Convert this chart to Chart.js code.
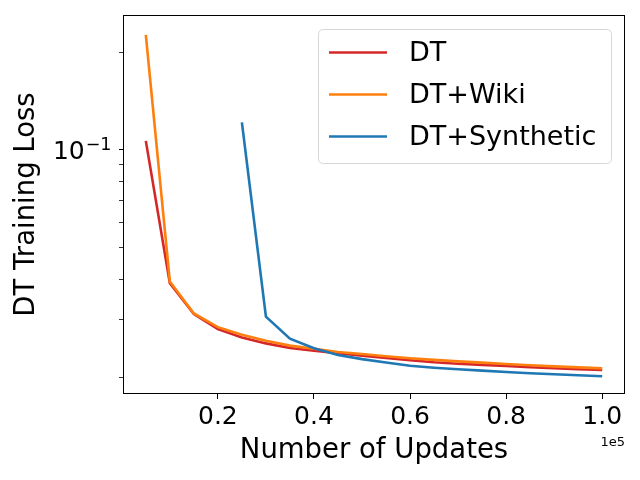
<!DOCTYPE html>
<html>
<head>
<meta charset="utf-8">
<script src="https://cdn.jsdelivr.net/npm/chart.js@4.4.0/dist/chart.umd.min.js"></script>
<style>
  html, body { margin: 0; padding: 0; background: #ffffff; }
  #wrap { width: 640px; height: 480px; position: relative; }
</style>
</head>
<body>
<div id="wrap"><canvas id="c" width="640" height="480"></canvas></div>
<script>
const updates = [5000, 10000, 15000, 20000, 25000, 30000, 35000, 40000, 45000, 50000,
                 55000, 60000, 65000, 70000, 75000, 80000, 85000, 90000, 95000, 100000];
const dt = [0.1066, 0.0389, 0.0313, 0.0281, 0.0265, 0.0254, 0.0246, 0.0241, 0.0237, 0.0233,
            0.0229, 0.02254, 0.02222, 0.0220, 0.02181, 0.02166, 0.02146, 0.0213, 0.02117, 0.02104];
const dtWiki = [0.226, 0.0394, 0.0314, 0.0285, 0.0270, 0.0259, 0.0250, 0.02445, 0.0239, 0.02357,
                0.0232, 0.02286, 0.0226, 0.02236, 0.02216, 0.02196, 0.02176, 0.02158, 0.02143, 0.02128];
const dtSynthetic = [null, null, null, null, 0.1216, 0.0307, 0.02627, 0.02454, 0.0234, 0.02272,
                     0.0222, 0.02169, 0.02138, 0.02115, 0.02094, 0.02075, 0.02056, 0.02042, 0.02028, 0.02012];
const seriesNames = ['DT', 'DT+Wiki', 'DT+Synthetic'];
const seriesColors = ['#d62728', '#ff7f0e', '#1f77b4'];
const xTicks = [20000, 40000, 60000, 80000, 100000];
const yTicks = [0.02, 0.03, 0.04, 0.05, 0.06, 0.07, 0.08, 0.09, 0.1, 0.2];
const yLabelValue = 0.1;
const yLabelBase = '10';
const yLabelExp = '\u22121';
const xOffsetText = '1e5';

const FONT = "'DejaVu Sans', 'Liberation Sans', sans-serif";

function pts(arr) {
  return updates.map((x, i) => ({ x: x, y: arr[i] }));
}

const frameAndLegend = {
  id: 'frameAndLegend',
  afterDraw(chart) {
    const ctx = chart.ctx;
    const a = chart.chartArea;
    ctx.save();
    // frame
    ctx.strokeStyle = '#000000';
    ctx.lineWidth = 1;
    ctx.strokeRect(Math.round(a.left) + 0.5, Math.round(a.top) + 0.5,
                   Math.round(a.right - a.left) - 1, Math.round(a.bottom - a.top) - 1);
    // y major label 10^-1 (mathtext style)
    const ys = chart.scales.y;
    const py = ys.getPixelForValue(yLabelValue);
    const rightEdge = a.left - 11.5;
    ctx.fillStyle = '#000000';
    ctx.textAlign = 'right';
    ctx.textBaseline = 'alphabetic';
    ctx.font = '17.5px ' + FONT;
    const expW = ctx.measureText(yLabelExp).width;
    ctx.fillText(yLabelExp, rightEdge, py);
    ctx.font = '25px ' + FONT;
    ctx.fillText(yLabelBase, rightEdge - expW - 1, py + 9.5);
    // offset text
    ctx.font = '13px ' + FONT;
    ctx.textAlign = 'right';
    ctx.textBaseline = 'middle';
    ctx.fillText(xOffsetText, a.right, 443);
    // legend
    const bx = 318.5, by = 29.5, bw = 293, bh = 134, r = 5;
    ctx.beginPath();
    ctx.moveTo(bx + r, by);
    ctx.lineTo(bx + bw - r, by);
    ctx.quadraticCurveTo(bx + bw, by, bx + bw, by + r);
    ctx.lineTo(bx + bw, by + bh - r);
    ctx.quadraticCurveTo(bx + bw, by + bh, bx + bw - r, by + bh);
    ctx.lineTo(bx + r, by + bh);
    ctx.quadraticCurveTo(bx, by + bh, bx, by + bh - r);
    ctx.lineTo(bx, by + r);
    ctx.quadraticCurveTo(bx, by, bx + r, by);
    ctx.closePath();
    ctx.fillStyle = 'rgba(255,255,255,0.8)';
    ctx.fill();
    ctx.strokeStyle = '#d6d6d6';
    ctx.lineWidth = 1;
    ctx.stroke();
    const rows = [52.5, 94.5, 136.5];
    chart.data.datasets.forEach((ds, i) => {
      const y = rows[i];
      ctx.beginPath();
      ctx.moveTo(329, y);
      ctx.lineTo(387, y);
      ctx.strokeStyle = ds.borderColor;
      ctx.lineWidth = 2.6;
      ctx.stroke();
      ctx.fillStyle = '#000000';
      ctx.font = '27px ' + FONT;
      ctx.textAlign = 'left';
      ctx.textBaseline = 'middle';
      ctx.fillText(ds.label, 409, y + 1);
    });
    ctx.restore();
  }
};

const datasets = [dt, dtWiki, dtSynthetic].map((arr, i) => ({
  label: seriesNames[i],
  data: pts(arr),
  borderColor: seriesColors[i],
  backgroundColor: seriesColors[i],
  borderWidth: 2.6,
  pointRadius: 0,
  fill: false,
  tension: 0,
  order: 3 - i
}));

new Chart(document.getElementById('c'), {
  type: 'line',
  data: { datasets: datasets },
  plugins: [frameAndLegend],
  options: {
    responsive: false,
    animation: false,
    devicePixelRatio: 1,
    layout: { padding: { left: 0, right: 15, top: 15, bottom: 0 } },
    plugins: {
      legend: { display: false },
      tooltip: { enabled: false },
      title: { display: false }
    },
    scales: {
      x: {
        type: 'linear',
        min: 250,
        max: 104750,
        afterBuildTicks(scale) { scale.ticks = xTicks.map(v => ({ value: v })); },
        afterFit(scale) { scale.height = 86; scale.paddingLeft = 0; scale.paddingRight = 0; },
        grid: { display: true, drawOnChartArea: false, drawTicks: true, tickLength: 5, color: '#000000', tickColor: '#000000' },
        border: { display: false },
        ticks: {
          color: '#000000',
          font: { family: FONT, size: 25 },
          padding: 3,
          maxRotation: 0,
          autoSkip: false,
          callback: (v) => (v / 1e5).toFixed(1)
        },
        title: {
          display: true,
          text: 'Number of Updates',
          color: '#000000',
          font: { family: FONT, size: 27.5 },
          padding: { top: 0, bottom: 13 }
        }
      },
      y: {
        type: 'logarithmic',
        min: 0.01775,
        max: 0.260,
        afterBuildTicks(scale) { scale.ticks = yTicks.map(v => ({ value: v, major: v === yLabelValue })); },
        afterFit(scale) { scale.width = 123; scale.paddingTop = 0; scale.paddingBottom = 0; },
        grid: {
          display: true, drawOnChartArea: false, drawTicks: true, tickLength: 4,
          color: '#000000', tickColor: '#000000',
          tickWidth: (c) => (c.tick && c.tick.value === yLabelValue ? 1 : 0.8)
        },
        border: { display: false },
        ticks: {
          color: '#000000',
          font: { family: FONT, size: 25 },
          padding: 6,
          autoSkip: false,
          callback: () => ''
        },
        title: {
          display: true,
          text: 'DT Training Loss',
          color: '#000000',
          font: { family: FONT, size: 27.5 },
          padding: { top: 10, bottom: 0 }
        }
      }
    }
  }
});
</script>
</body>
</html>
